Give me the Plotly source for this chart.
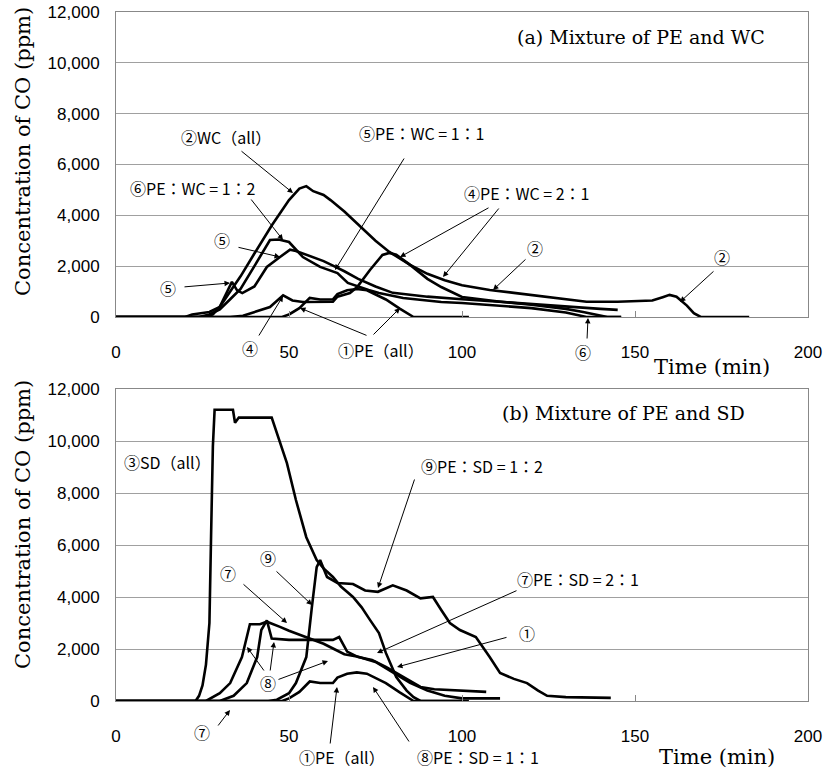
import plotly.graph_objects as go

W, H = 827, 771

# ---------------- Panel (a): mixture of PE and WC ----------------
t_pe = [0, 48, 50, 53, 56, 59, 62.7, 64, 66.8, 69.6, 72.5, 78, 82, 86, 102]
v_pe = [0, 0, 100, 350, 750, 690, 690, 900, 1050, 1100, 1050, 690, 330, 0, 0]

t_wc = [0, 26, 28, 30, 33, 36, 40, 45, 50, 53, 55, 57, 60, 62, 66, 70, 75, 79, 85, 90,
        95, 100, 108, 115, 120, 130, 136, 145, 150, 155, 158, 160, 162, 165, 167, 169, 183]
v_wc = [0, 0, 100, 400, 1000, 1600, 2500, 3600, 4600, 5050, 5150, 4950, 4800, 4600, 4150, 3650,
        3000, 2560, 2050, 1700, 1450, 1250, 1060, 950, 870, 720, 600, 600, 620, 650, 780, 870,
        800, 450, 150, 0, 0]

t_pewc11 = [0, 20, 22, 27, 30, 32, 33.5, 35, 36.5, 40, 43.6, 47.4, 50.3, 52, 55, 60, 63, 66,
            70, 75, 80, 90, 100, 110, 120, 130, 140, 145]
v_pewc11 = [0, 0, 100, 200, 400, 1000, 1380, 1050, 940, 1200, 1970, 2360, 2650, 2600, 2450,
            2200, 2000, 1800, 1500, 1200, 950, 800, 700, 600, 500, 400, 320, 280]

t_pewc12 = [0, 24, 27, 30, 33, 36, 40, 44.5, 47, 50, 54, 59, 64, 67, 73, 76, 83, 94, 100,
            110, 120, 130, 136, 146]
v_pewc12 = [0, 0, 100, 300, 700, 1100, 2000, 3030, 3050, 2950, 2360, 1970, 1730, 1340, 1060,
            940, 750, 590, 550, 450, 350, 180, 0, 0]

t_pewc21 = [0, 33, 36.7, 40, 44.5, 48.3, 51, 54, 58, 62.7, 64, 67.6, 69.7, 73.4, 77, 79, 81,
            85, 90, 94, 100, 110, 120, 130, 135, 140, 142, 146]
v_pewc21 = [0, 0, 50, 200, 390, 850, 650, 590, 600, 600, 800, 940, 1180, 1850, 2440, 2520,
            2450, 2050, 1500, 1180, 790, 620, 480, 320, 200, 60, 0, 0]

# ---------------- Panel (b): mixture of PE and SD ----------------
t_sd = [0, 23, 24, 25, 26, 27, 27.5, 28, 28.5, 33, 33.8, 34.4, 35.5, 45, 46.5, 49.4, 52, 55,
        58, 60, 62.7, 65, 68.5, 71, 73.4, 76, 78, 81, 84, 86, 88, 100]
v_sd = [0, 0, 200, 600, 1400, 3000, 6500, 9800, 11200, 11200, 11200, 10700, 10900, 10900,
        10300, 9150, 7730, 6300, 5420, 5100, 4770, 4400, 4000, 3600, 3120, 2610, 1850, 920,
        400, 150, 0, 0]

t_pesd21 = [0, 26, 30, 33, 36.4, 37.3, 38.7, 41.6, 43.6, 47.4, 50, 55, 60, 63, 66, 70, 75,
            80, 85, 90, 95, 100, 111]
v_pesd21 = [0, 0, 300, 690, 1690, 2230, 2950, 2950, 3050, 2850, 2700, 2450, 2200, 2000, 1800,
            1700, 1500, 1100, 700, 400, 200, 100, 100]

t_pesd11 = [0, 30, 34, 37.8, 40.8, 42, 43.6, 45, 50, 55, 60, 62.7, 64.5, 66.8, 70, 74, 78,
            83, 88, 92, 97.4, 107]
v_pesd11 = [0, 0, 200, 690, 1690, 2730, 3100, 2400, 2350, 2350, 2330, 2350, 2460, 1900, 1690,
            1580, 1310, 920, 540, 450, 420, 350]

t_pesd12 = [0, 44, 46.5, 50, 52, 55, 56.6, 58, 59, 61, 64, 68.5, 72, 75.7, 80, 84, 88, 91.6,
            94, 96.5, 99.4, 104, 108, 111, 115, 118.8, 122, 124.6, 130, 143]
v_pesd12 = [0, 0, 50, 300, 690, 1690, 3600, 5150, 5420, 4770, 4540, 4500, 4250, 4200, 4450,
            4250, 3950, 4000, 3500, 3000, 2730, 2460, 1690, 1080, 850, 690, 400, 200, 150, 120]

x_ticks = [0, 50, 100, 150, 200]
x_ticktext = ["0", "50", "100", "150", "200"]
y_ticks = [0, 2000, 4000, 6000, 8000, 10000, 12000]
y_ticktext = ["0", "2,000", "4,000", "6,000", "8,000", "10,000", "12,000"]

SANS = "Liberation Sans, Arial, sans-serif"
SERIF = "DejaVu Serif, serif"
JP = "Noto Sans CJK JP, sans-serif"

fig = go.Figure()


def add_line(x, y, xa, ya):
    fig.add_trace(go.Scatter(x=x, y=y, mode="lines", xaxis=xa, yaxis=ya,
                             line=dict(color="black", width=2.6),
                             cliponaxis=False, showlegend=False, hoverinfo="skip"))


for tx, vy in [(t_pe, v_pe), (t_wc, v_wc), (t_pewc11, v_pewc11),
               (t_pewc12, v_pewc12), (t_pewc21, v_pewc21)]:
    add_line(tx, vy, "x", "y")
for tx, vy in [(t_pe, v_pe), (t_sd, v_sd), (t_pesd21, v_pesd21),
               (t_pesd11, v_pesd11), (t_pesd12, v_pesd12)]:
    add_line(tx, vy, "x2", "y2")

xdom = [116 / W, 808 / W]
ydom_top = [1 - 317 / H, 1 - 12 / H]
ydom_bot = [1 - 701 / H, 1 - 389 / H]

xcommon = dict(domain=xdom, range=[0, 200], tickvals=x_ticks, ticktext=x_ticktext,
               ticks="inside", ticklen=6, tickcolor="#888", tickwidth=1,
               showgrid=False, zeroline=False, showline=True, linecolor="#888",
               linewidth=1, mirror=True, tickfont=dict(family=SANS, size=17, color="black"),
               ticklabelstandoff=20, automargin=False)
ycommon = dict(range=[0, 12000], tickvals=y_ticks, ticktext=y_ticktext, ticks="",
               showgrid=True, gridcolor="#a0a0a0", gridwidth=1, zeroline=False,
               showline=True, linecolor="#888", linewidth=1, mirror=True,
               tickfont=dict(family=SANS, size=17, color="black"),
               ticklabelstandoff=12, automargin=False)

fig.update_layout(
    width=W, height=H, margin=dict(l=0, r=0, t=0, b=0, pad=0),
    paper_bgcolor="white", plot_bgcolor="white", showlegend=False,
    xaxis=dict(anchor="y", **xcommon),
    yaxis=dict(anchor="x", domain=ydom_top, **ycommon),
    xaxis2=dict(anchor="y2", **xcommon),
    yaxis2=dict(anchor="x2", domain=ydom_bot, **ycommon),
)


def label(x, y, text, size=16, family=JP):
    fig.add_annotation(x=x / W, y=1 - y / H, xref="paper", yref="paper", text=text,
                       showarrow=False, xanchor="center", yanchor="middle",
                       font=dict(family=family, size=size, color="black"))


def arrow(x0, y0, x1, y1):
    fig.add_annotation(x=x1 / W, y=1 - y1 / H, xref="paper", yref="paper",
                       ax=x0 - x1, ay=y0 - y1, axref="pixel", ayref="pixel", text="",
                       showarrow=True, arrowhead=2, arrowsize=1.1, arrowwidth=1,
                       arrowcolor="black", standoff=0, startstandoff=0)


# axis titles
for yc in (152, 525):
    fig.add_annotation(x=23 / W, y=1 - yc / H, xref="paper", yref="paper",
                       text="Concentration of CO (ppm)", showarrow=False, textangle=-90,
                       xanchor="center", yanchor="middle",
                       font=dict(family=SERIF, size=21, color="black"))
label(712, 367, "Time (min)", 21, SERIF)
label(717, 757, "Time (min)", 21, SERIF)
label(641, 37, "(a) Mixture of PE and WC", 19, SERIF)
label(623, 413, "(b) Mixture of PE and SD", 19, SERIF)

# panel (a) labels
label(226, 137, "②WC（all）")
arrow(240, 150, 293, 193)
label(422, 133, "⑤PE：WC = 1：1")
arrow(405, 157, 335, 270)
label(193, 188, "⑥PE：WC = 1：2")
arrow(250, 198, 283, 240)
label(527, 193, "④PE：WC = 2：1")
arrow(490, 207, 400, 257)
arrow(500, 207, 443, 277)
label(222, 240, "⑤")
arrow(237, 247, 280, 257)
label(168, 288, "⑤")
arrow(183, 287, 230, 283)
label(250, 348, "④")
arrow(258, 337, 283, 296)
label(381, 350, "①PE（all）")
arrow(368, 336, 300, 308)
arrow(372, 336, 400, 308)
label(535, 248, "②")
arrow(527, 258, 493, 290)
label(722, 257, "②")
arrow(715, 270, 680, 302)
label(583, 352, "⑥")
arrow(587, 340, 588, 318)

# panel (b) labels
label(167, 462, "③SD（all）")
label(482, 466, "⑨PE：SD = 1：2")
arrow(415, 478, 378, 588)
label(268, 558, "⑨")
arrow(275, 570, 312, 605)
label(228, 573, "⑦")
arrow(242, 583, 287, 623)
label(578, 579, "⑦PE：SD = 2：1")
arrow(518, 590, 377, 653)
label(527, 633, "①")
arrow(508, 637, 397, 667)
label(268, 683, "⑧")
arrow(265, 672, 247, 647)
arrow(270, 672, 274, 642)
arrow(277, 680, 328, 661)
label(202, 732, "⑦")
arrow(217, 727, 230, 710)
label(342, 757, "①PE（all）")
arrow(330, 745, 337, 687)
label(478, 757, "⑧PE：SD = 1：1")
arrow(410, 743, 373, 687)

fig.write_html("out.html", config={"displayModeBar": False},
               post_script="document.body.style.margin='0';document.body.style.overflow='hidden';")
